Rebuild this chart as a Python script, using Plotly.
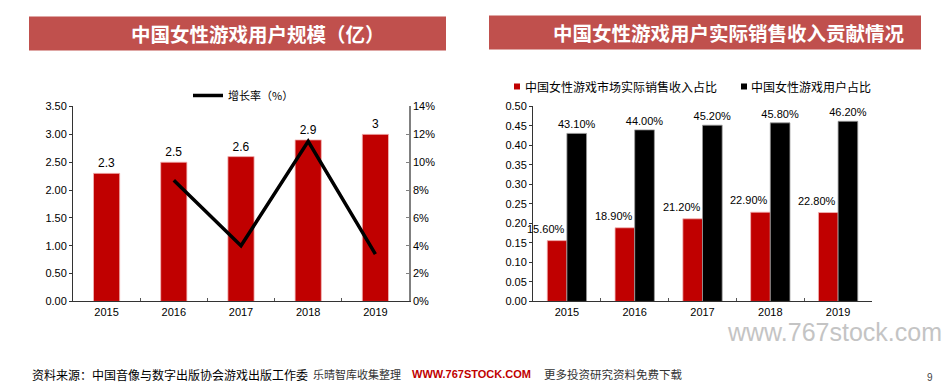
import plotly.graph_objects as go

years = ["2015", "2016", "2017", "2018", "2019"]
users = [2.3, 2.5, 2.6, 2.9, 3.0]
user_labels = ["2.3", "2.5", "2.6", "2.9", "3"]
growth_years = ["2016", "2017", "2018", "2019"]
growth = [0.087, 0.040, 0.115, 0.034]

revenue_share = [0.156, 0.189, 0.212, 0.229, 0.228]
user_share = [0.431, 0.440, 0.452, 0.458, 0.462]

title_left = "中国女性游戏用户规模（亿）"
title_right = "中国女性游戏用户实际销售收入贡献情况"
name_growth = "增长率（%）"
name_rev = "中国女性游戏市场实际销售收入占比"
name_user = "中国女性游戏用户占比"

W, H = 944, 385
RED = "#C00000"
BANNER = "#C0504D"
FONT = "Liberation Sans, Arial, Noto Sans CJK SC, sans-serif"
CJK = "Noto Sans CJK SC, sans-serif"

def px_x(x):
    return x / W

def px_y(y):
    # compensate for the vertical fit of the photographed page
    y = (y - 5.5) / 0.969
    return max(0.0, min(1.0, 1 - y / H))

fig = go.Figure()

# left chart
fig.add_trace(go.Bar(
    x=years, y=users, text=user_labels, textposition="outside",
    marker=dict(color=RED, line=dict(color="#F2B8B8", width=0.8)),
    width=0.39, cliponaxis=False, showlegend=False,
    textfont=dict(size=12, color="#000"), xaxis="x", yaxis="y",
))
fig.add_trace(go.Scatter(
    x=growth_years, y=growth, mode="lines", name=name_growth,
    line=dict(color="#000", width=3.5), xaxis="x", yaxis="y2", legend="legend",
))

# right chart
fig.add_trace(go.Bar(
    x=years, y=revenue_share, name=name_rev, showlegend=False,
    marker=dict(color=RED, line=dict(color="#F2B8B8", width=0.8)),
    xaxis="x2", yaxis="y3",
))
fig.add_trace(go.Bar(
    x=years, y=user_share, name=name_user, showlegend=False,
    text=[f"{v*100:.2f}%" for v in user_share], textposition="outside",
    constraintext="none", cliponaxis=False,
    marker=dict(color="#000", line=dict(color="#999", width=0.8)),
    textfont=dict(size=11, color="#000"), xaxis="x2", yaxis="y3",
))

annotations = []
# red-bar labels: category axis annotations use the category index
for i, v in enumerate(revenue_share):
    annotations.append(dict(
        text=f"{v*100:.2f}%", x=i, y=v, xref="x2", yref="y3",
        xanchor="right", yanchor="bottom", yshift=4, showarrow=False,
        font=dict(size=11, color="#000", family=FONT),
    ))

# right legend (manual)
legend_items = [(name_rev, RED, 514, 523), (name_user, "#000", 741, 749)]
shapes = [
    dict(type="rect", xref="paper", yref="paper", x0=px_x(29), x1=px_x(446),
         y0=px_y(50), y1=px_y(16), fillcolor=BANNER, line=dict(width=0), layer="below"),
    dict(type="rect", xref="paper", yref="paper", x0=px_x(489), x1=px_x(921),
         y0=px_y(49), y1=px_y(15), fillcolor=BANNER, line=dict(width=0), layer="below"),
]
for name, col, sx, tx in legend_items:
    shapes.append(dict(type="rect", xref="paper", yref="paper",
                       x0=px_x(sx), x1=px_x(sx + 6), y0=px_y(89), y1=px_y(83),
                       fillcolor=col, line=dict(width=0)))
    annotations.append(dict(text=name, x=px_x(tx), y=px_y(86), xref="paper", yref="paper",
                            xanchor="left", yanchor="middle", showarrow=False,
                            font=dict(size=12, color="#000", family=CJK)))

annotations += [
    dict(text=f"<b>{title_left}</b>", x=px_x(258), y=px_y(33), xref="paper", yref="paper",
         xanchor="center", yanchor="middle", showarrow=False,
         font=dict(size=19.5, color="white", family=CJK)),
    dict(text=f"<b>{title_right}</b>", x=px_x(729), y=px_y(32), xref="paper", yref="paper",
         xanchor="center", yanchor="middle", showarrow=False,
         font=dict(size=19.5, color="white", family=CJK)),
    dict(text="www.767stock.com", x=px_x(944), y=px_y(332), xref="paper", yref="paper",
         xanchor="right", yanchor="middle", showarrow=False,
         font=dict(size=25, color="#C4C4C4", family=FONT)),
    dict(text="资料来源：中国音像与数字出版协会游戏出版工作委", x=px_x(30), y=px_y(374),
         xref="paper", yref="paper", xanchor="left", yanchor="middle", showarrow=False,
         font=dict(size=12, color="#000", family=CJK)),
    dict(text="乐晴智库收集整理", x=px_x(311), y=px_y(374),
         xref="paper", yref="paper", xanchor="left", yanchor="middle", showarrow=False,
         font=dict(size=11, color="#333", family=CJK)),
    dict(text="<b>WWW.767STOCK.COM</b>", x=px_x(410), y=px_y(374),
         xref="paper", yref="paper", xanchor="left", yanchor="middle", showarrow=False,
         font=dict(size=11, color=RED, family=FONT)),
    dict(text="更多投资研究资料免费下载", x=px_x(542), y=px_y(374),
         xref="paper", yref="paper", xanchor="left", yanchor="middle", showarrow=False,
         font=dict(size=11.5, color="#333", family=CJK)),
    dict(text="9", x=px_x(930), y=px_y(377), xref="paper", yref="paper",
         xanchor="center", yanchor="middle", showarrow=False,
         font=dict(size=10, color="#444", family=FONT)),
]

ydom = [px_y(301), px_y(106)]
base = dict(showgrid=False, zeroline=False, showline=True,
            tickfont=dict(size=11, color="#000"))

fig.update_layout(
    width=W, height=H, margin=dict(l=0, r=0, t=0, b=0),
    paper_bgcolor="white", plot_bgcolor="white",
    font=dict(family=FONT, color="#000"),
    barmode="group", bargap=0.42, bargroupgap=0,
    xaxis=dict(domain=[px_x(73), px_x(409)], anchor="y", type="category",
               range=[-0.5, 4.5], tickson="boundaries", ticks="inside", ticklen=3,
               tickcolor="#555", linecolor="#333", linewidth=1, **base),
    yaxis=dict(domain=ydom, range=[0, 3.5], dtick=0.5, tickformat=".2f",
               anchor="x", ticks="outside", ticklen=3, tickcolor="#333",
               linecolor="#333", linewidth=1, **base),
    yaxis2=dict(range=[0, 0.14], dtick=0.02, tickformat=".0%", overlaying="y",
                side="right", anchor="x", ticks="inside", ticklen=3, tickcolor="#808080",
                linecolor="#808080", linewidth=1.5, **base),
    xaxis2=dict(domain=[px_x(533), px_x(872)], anchor="y3", type="category",
                range=[-0.5, 4.5], tickson="boundaries", ticks="inside", ticklen=3,
                tickcolor="#555", linecolor="#333", linewidth=1, **base),
    yaxis3=dict(domain=ydom, range=[0, 0.5], dtick=0.05, tickformat=".2f",
                anchor="x2", ticks="outside", ticklen=3, tickcolor="#333",
                linecolor="#333", linewidth=1, **base),
    legend=dict(x=px_x(188), y=px_y(95), xanchor="left", yanchor="middle",
                orientation="h", font=dict(size=11, family=CJK), bgcolor="rgba(0,0,0,0)",
                itemwidth=30),
    shapes=shapes,
    annotations=annotations,
)

post = (
    "var d=document.documentElement, b=document.body;"
    "d.style.margin='0'; d.style.padding='0'; d.style.overflow='hidden';"
    "b.style.margin='0'; b.style.padding='0'; b.style.overflow='hidden';"
)
fig.write_html("out.html", config={"displayModeBar": False}, post_script=post)
